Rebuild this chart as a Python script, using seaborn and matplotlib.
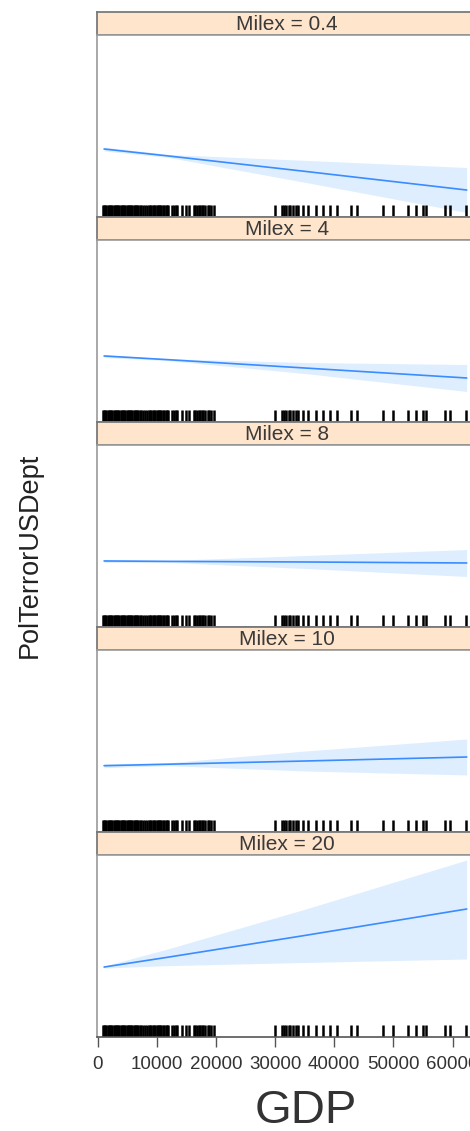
import numpy as np
import matplotlib
matplotlib.use("Agg")
import matplotlib.pyplot as plt
import seaborn as sns

sns.set_style("white")
plt.rcParams['font.family'] = ['Liberation Sans', 'DejaVu Sans']

# panels (Milex levels)
milex = ["0.4", "4", "8", "10", "20"]

# GDP points where the effect line is evaluated
gdp_pts = [1100, 12000, 35000, 62400]

# fitted effect and confidence band per panel
fit = [
    [2.494, 2.341, 2.004, 1.593],
    [2.451, 2.369, 2.187, 1.967],
    [2.451, 2.442, 2.429, 2.407],
    [2.457, 2.490, 2.560, 2.648],
    [2.538, 2.756, 3.231, 3.813],
]
upper = [
    [2.538, 2.374, 2.246, 2.088],
    [2.484, 2.391, 2.308, 2.264],
    [2.484, 2.464, 2.571, 2.703],
    [2.501, 2.523, 2.780, 3.044],
    [2.560, 2.941, 3.807, 4.890],
]
lower = [
    [2.451, 2.308, 1.763, 1.099],
    [2.418, 2.347, 2.066, 1.670],
    [2.418, 2.420, 2.286, 2.110],
    [2.413, 2.457, 2.341, 2.253],
    [2.516, 2.569, 2.637, 2.714],
]

# observed GDP values for the rug
gdp_rug = [900, 1100, 1300, 1500, 1700, 1900, 2100, 2300, 2500, 2700, 2900,
           3100, 3300, 3500, 3700, 3900, 4100, 4300, 4500, 4700, 4900, 5100,
           5300, 5500, 5700, 5900, 6100, 6300, 6500, 6700, 6900, 7100, 7400,
           7700, 8000, 8400, 8700, 8900, 9100, 9300, 9500, 9700, 10000,
           10200, 10400, 10600, 10800, 11100, 11300, 11500, 11700, 11900,
           12600, 12900, 13200, 13400, 14200, 14900, 15500, 16300, 16500,
           16800, 17100, 17300, 17600, 17900, 18100, 18600, 18900, 19200,
           19600, 30000, 31100, 31500, 31900, 32300, 32500, 33100, 33500,
           33900, 34700, 35600, 37000, 38100, 39300, 40400, 42900, 43800,
           48300, 49900, 52500, 53900, 55000, 55600, 58700, 59500, 62300]

W, H = 470, 1131
fig = plt.figure(figsize=(W / 100, H / 100), dpi=100)

left_px, right_px = 97, 488
strip_h, plot_h, step = 23, 182, 205

for k, lev in enumerate(milex):
    top = 12 + step * k
    # strip
    sax = fig.add_axes([left_px / W, 1 - (top + strip_h) / H,
                        (right_px - left_px) / W, strip_h / H])
    sax.set_facecolor('#ffe5cc')
    sax.set_xticks([])
    sax.set_yticks([])
    for s in sax.spines.values():
        s.set_color('#7a7a7a')
        s.set_linewidth(1.3)
    sax.text(0.485, 0.45, f"Milex = {lev}", ha='center', va='center',
             fontsize=15, color='#3a3a3a', transform=sax.transAxes)

    # panel
    ax = fig.add_axes([left_px / W, 1 - (top + strip_h + plot_h) / H,
                       (right_px - left_px) / W, plot_h / H])
    ax.fill_between(gdp_pts, lower[k], upper[k], color='#0080ff',
                    alpha=0.13, lw=0)
    sns.lineplot(x=gdp_pts, y=fit[k], ax=ax, color='#3a8cff', lw=1.2)
    sns.rugplot(x=gdp_rug, ax=ax, height=0.065, color='black',
                linewidth=1.8, expand_margins=False)
    ax.set_xlim(-100, 66000)
    ax.set_ylim(1, 5)
    ax.set_yticks([])
    ax.set_xlabel('')
    ax.set_ylabel('')
    for s in ax.spines.values():
        s.set_color('#9a9a9a')
        s.set_linewidth(1.2)
    ax.spines['bottom'].set_color('#555555')
    if k < len(milex) - 1:
        ax.set_xticks([])
    else:
        ax.set_xticks([0, 10000, 20000, 30000, 40000, 50000, 60000])
        ax.set_xticklabels(['0', '10000', '20000', '30000', '40000',
                            '50000', '60000'])
        ax.tick_params(axis='x', direction='out', length=7, width=1,
                       color='#555555', labelsize=13.5, labelcolor='#333333',
                       pad=7, bottom=True)

fig.text(306 / W, 1 - 1111 / H, 'GDP', ha='center', va='center',
         fontsize=34, color='#333333')
fig.text(30 / W, 1 - 555 / H, 'PolTerrorUSDept', ha='center', va='center',
         rotation=90, fontsize=19.5, color='#222222')

fig.savefig('out.png', dpi=100)
